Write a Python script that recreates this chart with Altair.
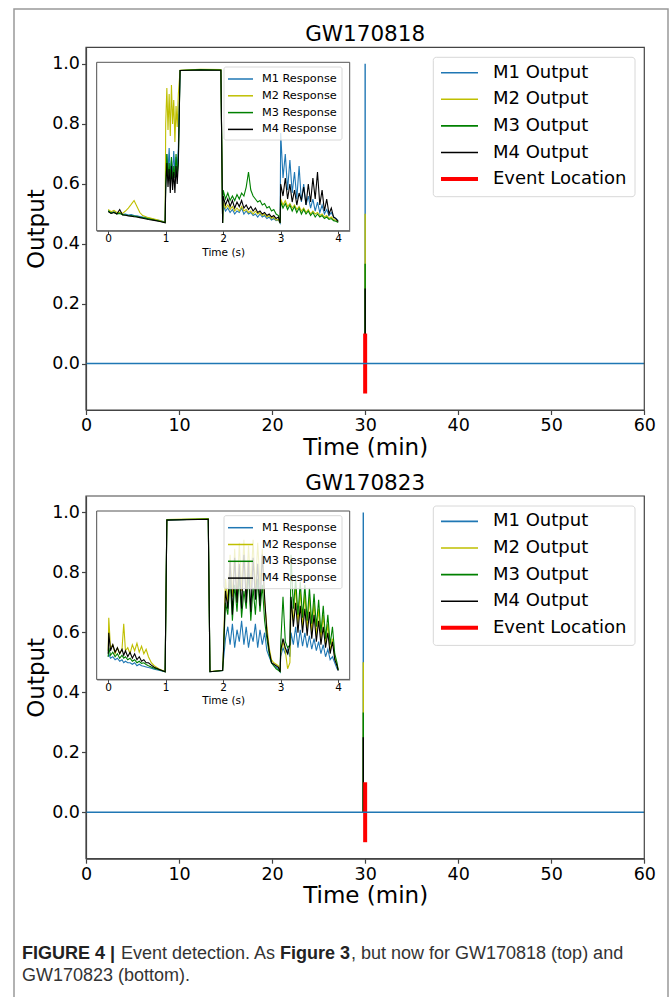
import altair as alt
import pandas as pd

# ---------------- data ----------------
model_colors = ["#1f77b4", "#bfbf00", "#008000", "#000000"]
output_labels = ["M1 Output", "M2 Output", "M3 Output", "M4 Output"]
response_labels = ["M1 Response", "M2 Response", "M3 Response", "M4 Response"]
event_label = "Event Location"
event_color = "#ff0000"
panel_titles = ["GW170818", "GW170823"]

# main panels (minutes)
peak_outputs = [1.0, 0.5, 0.333, 0.25]
output_time = [30.0, 29.8]
event_time = [30.0, 30.0]
event_marker = [-0.1, 0.1]
baseline_span = [0, 60]
baseline_value = 0.0
x_ticks_min = [0, 10, 20, 30, 40, 50, 60]
y_ticks_out = [0.0, 0.2, 0.4, 0.6, 0.8, 1.0]
inset_ticks = [0, 1, 2, 3, 4]

# inset GW170818 (seconds)
t_818 = [0.00, 0.05, 0.10, 0.15, 0.20, 0.25, 0.30, 0.35, 0.40, 0.45, 0.50, 0.55, 0.60, 0.70, 0.80, 0.90, 0.99,
         1.00, 1.02, 1.04, 1.06, 1.08, 1.10, 1.12, 1.14, 1.16, 1.18, 1.20, 1.22,
         1.25, 1.60, 1.96, 1.99,
         2.00, 2.04, 2.08, 2.12, 2.16, 2.20, 2.24, 2.28, 2.32, 2.36, 2.40, 2.44, 2.48, 2.52, 2.56, 2.60,
         2.64, 2.68, 2.72, 2.76, 2.80, 2.84, 2.88, 2.92, 2.96, 2.99,
         3.00, 3.04, 3.08, 3.12, 3.16, 3.20, 3.24, 3.28, 3.32, 3.36, 3.40, 3.44, 3.48, 3.52, 3.56, 3.60,
         3.64, 3.68, 3.72, 3.76, 3.80, 3.84, 3.88, 3.92, 3.96, 4.00]
r1_818 = [0.512, 0.505, 0.508, 0.502, 0.504, 0.499, 0.500, 0.497, 0.498, 0.495, 0.494, 0.492, 0.490, 0.486, 0.482, 0.478, 0.473,
          0.62, 0.70, 0.64, 0.72, 0.62, 0.68, 0.63, 0.71, 0.64, 0.69, 0.66, 0.72,
          0.978, 0.981, 0.980, 0.470,
          0.53, 0.51, 0.52, 0.505, 0.515, 0.50, 0.51, 0.505, 0.52, 0.50, 0.51, 0.50, 0.505, 0.495, 0.50, 0.49,
          0.50, 0.49, 0.495, 0.485, 0.49, 0.48, 0.485, 0.478, 0.48, 0.47,
          0.77, 0.62, 0.70, 0.58, 0.68, 0.57, 0.64, 0.55, 0.66, 0.54, 0.60, 0.53, 0.56, 0.52, 0.55, 0.51,
          0.54, 0.505, 0.53, 0.50, 0.515, 0.495, 0.505, 0.49, 0.485, 0.478]
r2_818 = [0.515, 0.508, 0.512, 0.505, 0.506, 0.502, 0.510, 0.520, 0.532, 0.545, 0.525, 0.505, 0.495, 0.488, 0.483, 0.478, 0.472,
          0.80, 0.92, 0.78, 0.90, 0.76, 0.93, 0.80, 0.88, 0.74, 0.86, 0.79, 0.90,
          0.979, 0.982, 0.981, 0.470,
          0.54, 0.52, 0.53, 0.515, 0.525, 0.51, 0.52, 0.51, 0.525, 0.51, 0.515, 0.505, 0.51, 0.50, 0.51, 0.50,
          0.505, 0.495, 0.50, 0.49, 0.495, 0.485, 0.49, 0.48, 0.482, 0.47,
          0.55, 0.53, 0.545, 0.525, 0.535, 0.52, 0.53, 0.515, 0.525, 0.51, 0.52, 0.505, 0.515, 0.50, 0.51, 0.50,
          0.505, 0.495, 0.50, 0.49, 0.495, 0.485, 0.49, 0.482, 0.48, 0.476]
r3_818 = [0.510, 0.503, 0.506, 0.500, 0.502, 0.498, 0.497, 0.495, 0.494, 0.493, 0.491, 0.489, 0.488, 0.484, 0.480, 0.476, 0.472,
          0.60, 0.70, 0.62, 0.67, 0.61, 0.69, 0.60, 0.66, 0.62, 0.70, 0.63, 0.68,
          0.978, 0.981, 0.980, 0.470,
          0.58, 0.55, 0.57, 0.545, 0.56, 0.545, 0.565, 0.55, 0.57, 0.56, 0.59, 0.64, 0.58, 0.56, 0.55, 0.54,
          0.545, 0.53, 0.535, 0.52, 0.525, 0.51, 0.515, 0.50, 0.495, 0.47,
          0.54, 0.52, 0.535, 0.515, 0.53, 0.51, 0.525, 0.505, 0.52, 0.50, 0.515, 0.50, 0.51, 0.495, 0.505, 0.49,
          0.50, 0.49, 0.495, 0.485, 0.49, 0.482, 0.485, 0.478, 0.476, 0.472]
r4_818 = [0.508, 0.502, 0.505, 0.500, 0.515, 0.497, 0.496, 0.494, 0.493, 0.491, 0.490, 0.488, 0.486, 0.482, 0.479, 0.475, 0.471,
          0.58, 0.67, 0.59, 0.65, 0.57, 0.66, 0.58, 0.64, 0.57, 0.66, 0.60, 0.67,
          0.978, 0.980, 0.979, 0.470,
          0.56, 0.53, 0.55, 0.525, 0.545, 0.52, 0.54, 0.525, 0.545, 0.52, 0.53, 0.515, 0.525, 0.51, 0.52, 0.505,
          0.51, 0.50, 0.505, 0.495, 0.50, 0.49, 0.495, 0.485, 0.49, 0.47,
          0.60, 0.56, 0.62, 0.55, 0.60, 0.54, 0.58, 0.53, 0.57, 0.545, 0.59, 0.53, 0.60, 0.54, 0.62, 0.55,
          0.64, 0.53, 0.58, 0.51, 0.55, 0.50, 0.52, 0.49, 0.485, 0.475]

# inset GW170823 (seconds)
t_823 = [0.00, 0.01, 0.04, 0.08, 0.12, 0.16, 0.20, 0.24, 0.27, 0.30, 0.34, 0.38, 0.42, 0.46, 0.50, 0.54,
         0.58, 0.62, 0.66, 0.70, 0.75, 0.80, 0.90, 0.99,
         1.02, 1.74, 1.77, 1.99,
         2.00, 2.04, 2.08, 2.12, 2.16, 2.20, 2.24, 2.28, 2.32, 2.36, 2.40, 2.44, 2.48, 2.52, 2.56, 2.60,
         2.64, 2.68, 2.72, 2.76, 2.80, 2.84, 2.88, 2.92, 2.96, 2.99,
         3.00, 3.04, 3.08, 3.12, 3.16,
         3.18, 3.22, 3.26, 3.30, 3.34, 3.38, 3.42, 3.46, 3.50, 3.54, 3.58, 3.62, 3.66, 3.70, 3.74, 3.78,
         3.82, 3.86, 3.90, 3.94, 3.98, 4.00]
r1_823 = [0.52, 0.53, 0.515, 0.52, 0.51, 0.515, 0.505, 0.51, 0.50, 0.505, 0.50, 0.50, 0.495, 0.50, 0.49, 0.495,
          0.49, 0.488, 0.486, 0.484, 0.482, 0.478, 0.474, 0.47,
          0.976, 0.979, 0.470, 0.474,
          0.50, 0.58, 0.62, 0.56, 0.63, 0.55, 0.61, 0.57, 0.64, 0.56, 0.62, 0.55, 0.60, 0.57, 0.63, 0.55,
          0.61, 0.56, 0.60, 0.54, 0.52, 0.50, 0.49, 0.485, 0.48, 0.47,
          0.52, 0.55, 0.53, 0.545, 0.52,
          0.60, 0.56, 0.62, 0.55, 0.61, 0.555, 0.60, 0.55, 0.59, 0.545, 0.58, 0.54, 0.57, 0.53, 0.56, 0.52,
          0.545, 0.51, 0.52, 0.50, 0.48, 0.475]
r2_823 = [0.54, 0.65, 0.55, 0.56, 0.53, 0.55, 0.53, 0.545, 0.63, 0.54, 0.55, 0.53, 0.56, 0.54, 0.565, 0.535,
          0.555, 0.53, 0.545, 0.52, 0.50, 0.49, 0.478, 0.47,
          0.977, 0.980, 0.471, 0.475,
          0.52, 0.78, 0.70, 0.86, 0.72, 0.88, 0.70, 0.90, 0.74, 0.91, 0.72, 0.89, 0.75, 0.91, 0.73, 0.90,
          0.76, 0.88, 0.70, 0.62, 0.55, 0.51, 0.50, 0.495, 0.49, 0.47,
          0.53, 0.57, 0.54, 0.48, 0.50,
          0.70, 0.64, 0.76, 0.63, 0.74, 0.62, 0.73, 0.61, 0.72, 0.60, 0.70, 0.59, 0.68, 0.58, 0.66, 0.56,
          0.63, 0.54, 0.58, 0.52, 0.49, 0.478]
r3_823 = [0.52, 0.55, 0.525, 0.535, 0.52, 0.53, 0.515, 0.525, 0.515, 0.52, 0.51, 0.515, 0.505, 0.51, 0.50, 0.505,
          0.498, 0.50, 0.494, 0.49, 0.486, 0.482, 0.476, 0.47,
          0.976, 0.979, 0.470, 0.474,
          0.51, 0.70, 0.66, 0.78, 0.64, 0.76, 0.67, 0.79, 0.65, 0.74, 0.68, 0.80, 0.64, 0.75, 0.66, 0.78,
          0.67, 0.76, 0.64, 0.58, 0.53, 0.50, 0.49, 0.48, 0.475, 0.47,
          0.56, 0.72, 0.57, 0.55, 0.56,
          0.86, 0.68, 0.78, 0.66, 0.77, 0.65, 0.76, 0.64, 0.75, 0.63, 0.73, 0.62, 0.71, 0.60, 0.69, 0.58,
          0.66, 0.56, 0.62, 0.53, 0.50, 0.476]
r4_823 = [0.53, 0.60, 0.54, 0.56, 0.535, 0.55, 0.53, 0.545, 0.525, 0.54, 0.52, 0.535, 0.515, 0.53, 0.51, 0.52,
          0.505, 0.51, 0.50, 0.50, 0.492, 0.485, 0.477, 0.47,
          0.975, 0.978, 0.470, 0.474,
          0.51, 0.74, 0.68, 0.84, 0.66, 0.85, 0.70, 0.83, 0.68, 0.86, 0.70, 0.84, 0.67, 0.85, 0.71, 0.83,
          0.69, 0.86, 0.72, 0.60, 0.54, 0.50, 0.495, 0.49, 0.485, 0.47,
          0.54, 0.58, 0.55, 0.53, 0.56,
          0.72, 0.62, 0.70, 0.60, 0.69, 0.60, 0.68, 0.59, 0.67, 0.58, 0.66, 0.57, 0.64, 0.56, 0.62, 0.55,
          0.60, 0.53, 0.57, 0.51, 0.49, 0.474]

caption_line1 = [("FIGURE 4 |", True), ("Event detection. As", False), ("Figure 3", True),
                 (", but now for GW170818 (top) and", False)]
caption_line2 = "GW170823 (bottom)."

for s in (r1_818, r2_818, r3_818, r4_818):
    assert len(s) == len(t_818), len(s)
for s in (r1_823, r2_823, r3_823, r4_823):
    assert len(s) == len(t_823), len(s)

# ---------------- layout ----------------
W, H = 672, 997
FONT = "DejaVu Sans"
X0, X1 = 86.0, 644.3          # main plot area x
PANEL_H = 362.7
PANEL_TOPS = [47.3, 496.0]
IX0, IX1 = 96.7, 349.7        # inset x
INSET_DY, INSET_H = 15.0, 168.4
one = pd.DataFrame({"k": [0]})


def box(x0, x1, y0, y1, stroke="#444", width=1.2, fill="white", fill_opacity=0.0, radius=0):
    return alt.Chart(one).mark_rect(
        stroke=stroke, strokeWidth=width, fill=fill, fillOpacity=fill_opacity, cornerRadius=radius
    ).encode(x=alt.value(x0), x2=alt.value(x1), y=alt.value(y0), y2=alt.value(y1))


def label(text, x, y, size, align="left", weight="normal", color="#000", font=FONT, baseline="middle"):
    return alt.Chart(one).mark_text(
        text=text, font=font, fontSize=size, align=align, baseline=baseline,
        fontWeight=weight, color=color
    ).encode(x=alt.value(x), y=alt.value(y))


def handle(x0, x1, y, color, width):
    return alt.Chart(one).mark_rule(color=color, strokeWidth=width).encode(
        x=alt.value(x0), x2=alt.value(x1), y=alt.value(y))


def main_panel(i):
    top = PANEL_TOPS[i]
    bot = top + PANEL_H
    xs = alt.Scale(domain=[0, 60], range=[X0, X1], nice=False, zero=False)
    ys = alt.Scale(domain=[-0.155, 1.055], range=[bot, top], nice=False, zero=False)
    x_axis = alt.Axis(orient="bottom", offset=-(H - bot), values=x_ticks_min, format="d", grid=False,
                      title="Time (min)", titleFont=FONT, titleFontSize=23, titleFontWeight="normal",
                      titleColor="#000", titlePadding=2, labelFont=FONT, labelFontSize=17.5,
                      labelColor="#000", labelPadding=2, labelFlush=False, labelOverlap=False,
                      tickSize=4.5, tickColor="#444", tickWidth=1.2,
                      domainColor="#444", domainWidth=1.2)
    y_axis = alt.Axis(orient="left", offset=-X0, values=y_ticks_out, format=".1f", grid=False,
                      title="Output", titleFont=FONT, titleFontSize=23, titleFontWeight="normal",
                      titleColor="#000", titlePadding=3, labelFont=FONT, labelFontSize=17.5,
                      labelColor="#000", labelPadding=2, labelFlush=False, labelOverlap=False,
                      tickSize=4.5, tickColor="#444", tickWidth=1.2,
                      domainColor="#444", domainWidth=1.2)
    layers = []
    for k in range(4):
        df = pd.DataFrame({"t": [output_time[i]], "lo": [baseline_value], "hi": [peak_outputs[k]]})
        layers.append(
            alt.Chart(df).mark_rule(color=model_colors[k], strokeWidth=1.4).encode(
                x=alt.X("t:Q", scale=xs, axis=x_axis, title="Time (min)"),
                y=alt.Y("lo:Q", scale=ys, axis=y_axis, title="Output"),
                y2="hi:Q",
            )
        )
    ev = pd.DataFrame({"t": [event_time[i]], "lo": [event_marker[0]], "hi": [event_marker[1]]})
    layers.append(
        alt.Chart(ev).mark_rule(color=event_color, strokeWidth=4).encode(
            x=alt.X("t:Q", scale=xs, axis=x_axis, title="Time (min)"),
            y=alt.Y("lo:Q", scale=ys, axis=y_axis, title="Output"), y2="hi:Q")
    )
    bl = pd.DataFrame({"t": [baseline_span[0]], "t2": [baseline_span[1]], "lo": [baseline_value]})
    layers.append(
        alt.Chart(bl).mark_rule(color=model_colors[0], strokeWidth=1.4).encode(
            x=alt.X("t:Q", scale=xs, axis=x_axis, title="Time (min)"), x2="t2:Q",
            y=alt.Y("lo:Q", scale=ys, axis=y_axis, title="Output"))
    )
    layers.append(box(X0, X1, top, bot))
    return alt.layer(*layers)


def inset_panel(i):
    t = [t_818, t_823][i]
    series = [[r1_818, r2_818, r3_818, r4_818], [r1_823, r2_823, r3_823, r4_823]][i]
    iy0 = PANEL_TOPS[i] + INSET_DY
    iy1 = iy0 + INSET_H
    xs = alt.Scale(domain=[-0.2, 4.2], range=[IX0, IX1], nice=False, zero=False)
    ys = alt.Scale(domain=[0.4445, 1.0055], range=[iy1, iy0], nice=False, zero=False)
    x_axis = alt.Axis(orient="bottom", offset=-(H - iy1), values=inset_ticks, format="d", grid=False,
                      title="Time (s)", titleFont=FONT, titleFontSize=10.5, titleFontWeight="normal",
                      titleColor="#000", titlePadding=3, labelFont=FONT, labelFontSize=10.5,
                      labelColor="#000", labelPadding=0, labelFlush=False, labelOverlap=False,
                      tickSize=3, tickColor="#444", tickWidth=1,
                      domainColor="#555", domainWidth=1)
    y_axis = alt.Axis(orient="left", offset=-IX0, values=[], labels=False, ticks=False, title=None,
                      grid=False, domainColor="#555", domainWidth=1)
    layers = [box(IX0, IX1, iy0, iy1, fill_opacity=1.0, width=0)]
    for k in range(4):
        df = pd.DataFrame({"t": t, "v": series[k]})
        layers.append(
            alt.Chart(df).mark_line(color=model_colors[k], strokeWidth=1.1).encode(
                x=alt.X("t:Q", scale=xs, axis=x_axis, title="Time (s)"),
                y=alt.Y("v:Q", scale=ys, axis=y_axis, title=None),
            )
        )
    layers.append(box(IX0, IX1, iy0, iy1, stroke="#555", width=1.0))
    # inset legend
    layers.append(box(224, 342, iy0 + 4.7, iy0 + 77.7, stroke="#d8d8d8", width=1, fill="white",
                      fill_opacity=0.8, radius=2))
    for k in range(4):
        y = iy0 + 16.7 + k * 16.8
        layers.append(handle(228, 253, y, model_colors[k], 1.5))
        layers.append(label(response_labels[k], 262, y, 11.3))
    return alt.layer(*layers)


def main_legend(i):
    top = PANEL_TOPS[i]
    layers = [box(433.3, 635, top + 10, top + 149.4, stroke="#d8d8d8", width=1, fill="white",
                  fill_opacity=0.8, radius=3)]
    labels = output_labels + [event_label]
    colors = model_colors + [event_color]
    widths = [1.6, 1.6, 1.6, 1.6, 4]
    for k in range(5):
        y = top + 25.4 + k * 26.6
        layers.append(handle(441, 478, y, colors[k], widths[k]))
        layers.append(label(labels[k], 493, y, 18))
    layers.append(label(panel_titles[i], (X0 + X1) / 2, top - 6, 21.5, align="center",
                        baseline="alphabetic"))
    return alt.layer(*layers)


outer = box(14, 668, 9, 1010, stroke="#999", width=1.5)

cap_font = "Liberation Sans"
cap_x = [22, 121, 280, 351]
caption = []
for (txt, bold), x in zip(caption_line1, cap_x):
    caption.append(label(txt, x, 959, 18, weight="bold" if bold else "normal",
                         color="#222" if bold else "#333", font=cap_font, baseline="alphabetic"))
caption.append(label(caption_line2, 22, 981, 18, color="#333", font=cap_font, baseline="alphabetic"))

chart = alt.layer(
    outer,
    main_panel(0), inset_panel(0), main_legend(0),
    main_panel(1), inset_panel(1), main_legend(1),
    *caption,
).resolve_scale(
    x="independent", y="independent"
).resolve_axis(
    x="independent", y="independent"
).properties(
    width=W, height=H, padding=0, background="white",
    autosize=alt.AutoSizeParams(type="none"),
).configure_view(strokeWidth=0)

chart.save("out.html", embed_options={"renderer": "svg", "actions": False})
